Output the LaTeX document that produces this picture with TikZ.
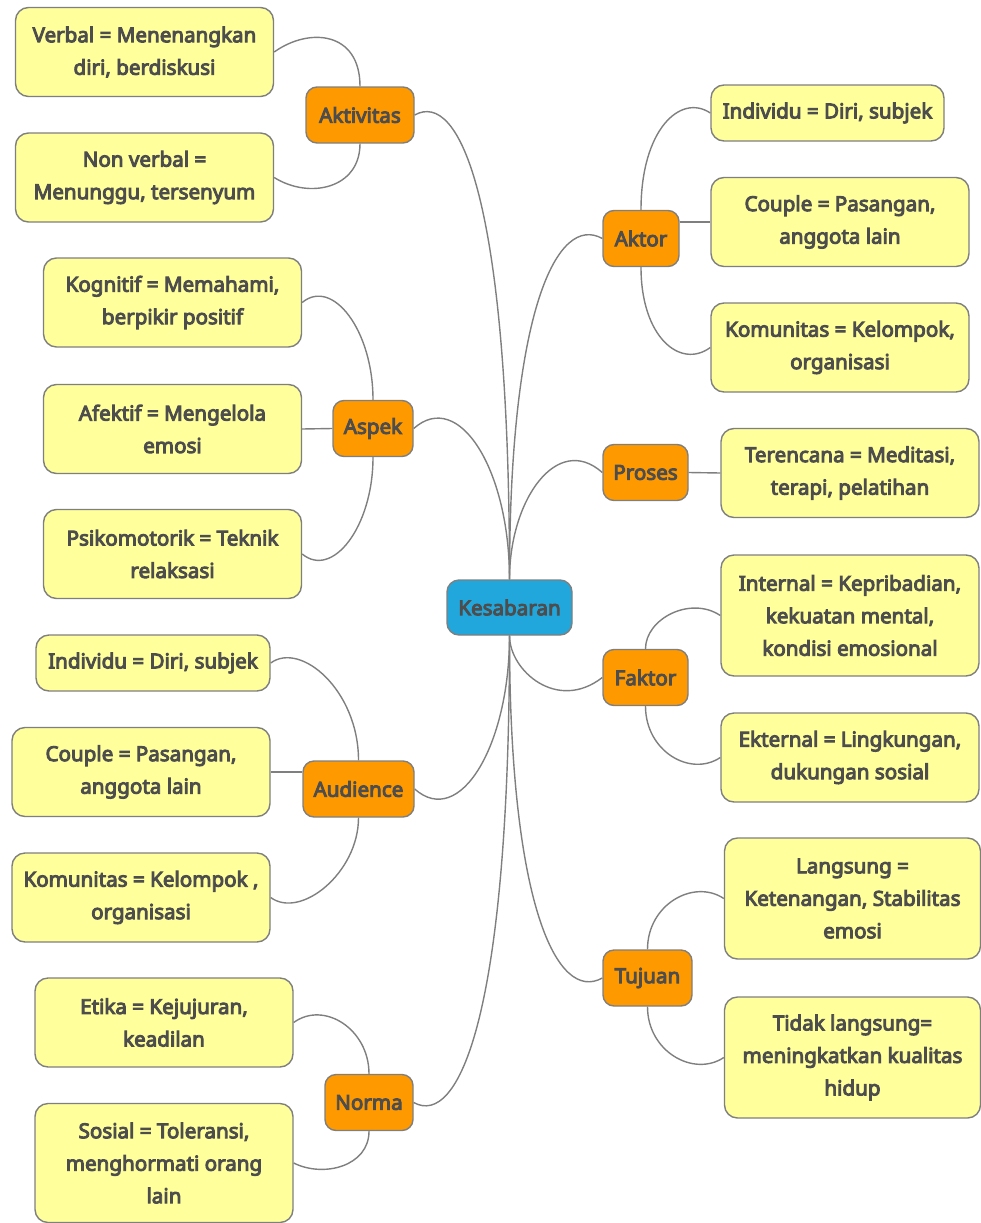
\documentclass[tikz,border=0pt]{standalone}
\usepackage{fontspec}
\setmainfont{Noto Sans}[AutoFakeBold=4.6]
\definecolor{leaffill}{HTML}{FFFF9C}
\definecolor{branchfill}{HTML}{FF9900}
\definecolor{rootfill}{HTML}{22A7DD}
\definecolor{edgegray}{HTML}{7F7F7F}
\definecolor{textgray}{HTML}{4D4D4D}
\tikzset{
  box/.style={draw=edgegray, line width=1.4pt, rounded corners=13pt, align=center,
    inner sep=0pt, text=textgray, font=\fontsize{20.6}{32.5}\selectfont\bfseries},
  leaf/.style={box, fill=leaffill, minimum width=258pt, minimum height=89pt},
  leafthree/.style={leaf, minimum height=121pt},
  leafone/.style={leaf, minimum width=234pt, minimum height=56pt},
  branch/.style={box, fill=branchfill, rounded corners=11pt, minimum height=56pt},
  root/.style={box, fill=rootfill, rounded corners=12pt, minimum height=55pt, minimum width=125pt},
  link/.style={draw=edgegray, line width=1.4pt}
}
\begin{document}
\begin{tikzpicture}[x=1pt, y=-1pt]
\useasboundingbox (0,0) rectangle (981,1223);

% root
\node[root] (K) at (509.5,607.5) {Kesabaran};

% main branches
\node[branch, minimum width=108pt] (Akt) at (360,115) {Aktivitas};
\node[branch, minimum width=80pt]  (Asp) at (373,428.5) {Aspek};
\node[branch, minimum width=111pt] (Aud) at (358.5,789) {Audience};
\node[branch, minimum width=88pt]  (Nor) at (369,1102.5) {Norma};
\node[branch, minimum width=76pt]  (Aktor) at (641,238.5) {Aktor};
\node[branch, minimum width=85pt]  (Pro) at (645.5,472.5) {Proses};
\node[branch, minimum width=85pt]  (Fak) at (645.5,677.5) {Faktor};
\node[branch, minimum width=89pt]  (Tuj) at (647.5,978) {Tujuan};

% left leaves
\node[leaf] (Verbal) at (144.5,52) {Verbal = Menenangkan\\diri, berdiskusi};
\node[leaf] (NonVerbal) at (144.5,177.5) {Non verbal =\\Menunggu, tersenyum};
\node[leaf] (Kog) at (172.5,302.5) {Kognitif = Memahami,\\berpikir positif};
\node[leaf] (Afe) at (172.5,429) {Afektif = Mengelola\\emosi};
\node[leaf] (Psi) at (172.5,554) {Psikomotorik = Teknik\\relaksasi};
\node[leafone] (IndL) at (153,663) {Individu = Diri, subjek};
\node[leaf] (CouL) at (141,772) {Couple = Pasangan,\\anggota lain};
\node[leaf] (KomL) at (141,897.5) {Komunitas = Kelompok ,\\organisasi};
\node[leaf] (Eti) at (164,1022.5) {Etika = Kejujuran,\\keadilan};
\node[leaf, minimum height=119pt] (Sos) at (164,1163) {Sosial = Toleransi,\\menghormati orang\\lain};

% right leaves
\node[leafone, minimum width=233pt] (IndR) at (827.5,113) {Individu = Diri, subjek};
\node[leaf] (CouR) at (840,222) {Couple = Pasangan,\\anggota lain};
\node[leaf] (KomR) at (840,347.5) {Komunitas = Kelompok,\\organisasi};
\node[leaf] (Ter) at (850,473) {Terencana = Meditasi,\\terapi, pelatihan};
\node[leafthree] (Int) at (850,615.5) {Internal = Kepribadian,\\kekuatan mental,\\kondisi emosional};
\node[leaf] (Eks) at (850,757.5) {Ekternal = Lingkungan,\\dukungan sosial};
\node[leafthree, minimum width=256pt] (Lan) at (852.5,898.5) {Langsung =\\Ketenangan, Stabilitas\\emosi};
\node[leafthree, minimum width=256pt] (Tid) at (852.5,1057.5) {Tidak langsung=\\meningkatkan kualitas\\hidup};

% root to branches
\path[link] (K.north) .. controls +(0,-380) and +(45,-25) .. (Akt.east);
\path[link] (K.north) .. controls +(0,-110) and +(45,-40) .. (Asp.east);
\path[link] (K.north) .. controls +(0,-270) and +(-45,-25) .. (Aktor.west);
\path[link] (K.north) .. controls +(0,-80) and +(-45,-40) .. (Pro.west);
\path[link] (K.south) .. controls +(0,35) and +(-45,35) .. (Fak.west);
\path[link] (K.south) .. controls +(0,270) and +(-45,25) .. (Tuj.west);
\path[link] (K.south) .. controls +(0,110) and +(45,40) .. (Aud.east);
\path[link] (K.south) .. controls +(0,380) and +(45,25) .. (Nor.east);

% branches to leaves
\path[link] (Akt.north) .. controls +(0,-55) and +(35,-25) .. (Verbal.east);
\path[link] (Akt.south) .. controls +(0,45) and +(35,22) .. (NonVerbal.east);

\path[link] (Asp.north) .. controls +(0,-70) and +(30,-25) .. (Kog.east);
\path[link] (Asp.west) -- (Afe.east);
\path[link] (Asp.south) .. controls +(0,70) and +(30,25) .. (Psi.east);

\path[link] (Aud.north) .. controls +(0,-70) and +(30,-22) .. (IndL.east);
\path[link] (Aud.west |- CouL.east) -- (CouL.east);
\path[link] (Aud.south) .. controls +(0,55) and +(30,22) .. (KomL.east);

\path[link] (Nor.north) .. controls +(0,-45) and +(30,-22) .. (Eti.east);
\path[link] (Nor.south) .. controls +(0,35) and +(30,15) .. (Sos.east);

\path[link] (Aktor.north) .. controls +(0,-80) and +(-30,-20) .. (IndR.west);
\path[link] (Aktor.east |- CouR.west) -- (CouR.west);
\path[link] (Aktor.south) .. controls +(0,70) and +(-30,22) .. (KomR.west);

\path[link] (Pro.east) -- (Ter.west);

\path[link] (Fak.north) .. controls +(0,-30) and +(-30,-20) .. (Int.west);
\path[link] (Fak.south) .. controls +(0,45) and +(-30,20) .. (Eks.west);

\path[link] (Tuj.north) .. controls +(0,-45) and +(-30,-20) .. (Lan.west);
\path[link] (Tuj.south) .. controls +(0,45) and +(-30,20) .. (Tid.west);
\end{tikzpicture}
\end{document}
